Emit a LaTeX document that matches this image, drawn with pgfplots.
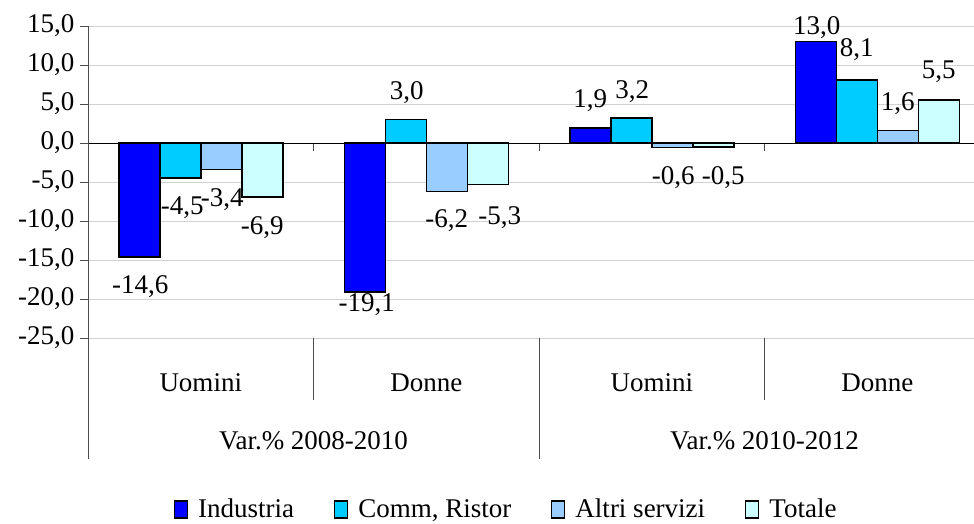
\documentclass[border=0pt]{standalone}
\usepackage{pgfplots}
\pgfplotsset{compat=1.18}
\usepackage{pgfplotstable}
\usepackage{fontspec}
\setmainfont{Liberation Serif}
\definecolor{cInd}{RGB}{0,0,255}
\definecolor{cCom}{RGB}{0,204,255}
\definecolor{cAlt}{RGB}{153,204,255}
\definecolor{cTot}{RGB}{204,255,255}
\pgfplotstableread{
x y dx dy
0 -14.6 1 -30
1 -19.1 2 -13
2 1.9 0 28
3 13.0 1 14
}\tInd
\pgfplotstableread{
x y dx dy
0 -4.5 2 -30
1 3.0 1 27
2 3.2 1 26
3 8.1 0 30
}\tCom
\pgfplotstableread{
x y dx dy
0 -3.4 1 -30
1 -6.2 0 -29
2 -0.6 1 -30
3 1.6 0 27
}\tAlt
\pgfplotstableread{
x y dx dy
0 -6.9 0 -31
1 -5.3 12 -33
2 -0.5 10 -31
3 5.5 0 28
}\tTot
\begin{document}
\begin{tikzpicture}[font=\fontsize{27}{32}\selectfont]
\begin{axis}[
  at={(88pt,185pt)}, anchor=south west,
  scale only axis, width=886pt, height=312pt,
  xmin=-0.5, xmax=3.429, ymin=-25, ymax=15,
  axis x line=middle, axis y line=left,
  axis line style={-},
  x axis line style={black, line width=0.8pt},
  y axis line style={black!70, line width=0.8pt},
  xtick={0.5,1.5,2.5}, xticklabels={},
  xtick align=outside, ytick align=outside,
  major tick length=8pt,
  xtick style={black!70, line width=0.8pt},
  ytick style={black!70, line width=0.8pt},
  ytick={-25,-20,...,15},
  ymajorgrids, grid style={black!18, line width=1pt},
  /pgf/number format/.cd, use comma, fixed, fixed zerofill, precision=1, assume math mode=true,
  /pgfplots/.cd,
  yticklabel style={xshift=-2pt},
  clip=false,
  ybar, bar width=41pt,
  nodes near coords,
  visualization depends on={\thisrow{dx} \as \dx},
  visualization depends on={\thisrow{dy} \as \dy},
  every node near coord/.append style={anchor=center, xshift=\dx pt, yshift=\dy pt, black},
  legend image code/.code={\draw[#1, line width=1.2pt] (0pt,-9pt) rectangle (13pt,8pt);},
  legend style={at={(0.472,-0.548)}, anchor=center, draw=none, fill=none, legend columns=4,
    /tikz/every even column/.append style={column sep=38pt},
    /tikz/every odd column/.append style={column sep=8pt}},
]
\addplot[fill=cInd, draw=black, line width=1.5pt, bar shift=-61.5pt] table[x=x,y=y] {\tInd};
\addlegendentry{Industria}
\addplot[fill=cCom, draw=black, line width=1.5pt, bar shift=-20.5pt] table[x=x,y=y] {\tCom};
\addlegendentry{Comm, Ristor}
\addplot[fill=cAlt, draw=black, line width=1.5pt, bar shift=20.5pt] table[x=x,y=y] {\tAlt};
\addlegendentry{Altri servizi}
\addplot[fill=cTot, draw=black, line width=1.5pt, bar shift=61.5pt] table[x=x,y=y] {\tTot};
\addlegendentry{Totale}
\draw[black!70, line width=0.8pt] (axis cs:-0.5,-25) -- ++(0pt,-121pt);
\draw[black!70, line width=0.8pt] (axis cs:0.5,-25) -- ++(0pt,-62pt);
\draw[black!70, line width=0.8pt] (axis cs:1.5,-25) -- ++(0pt,-121pt);
\draw[black!70, line width=0.8pt] (axis cs:2.5,-25) -- ++(0pt,-62pt);
\node at (axis cs:0,-25) [yshift=-45pt] {Uomini};
\node at (axis cs:1,-25) [yshift=-45pt] {Donne};
\node at (axis cs:2,-25) [yshift=-45pt] {Uomini};
\node at (axis cs:3,-25) [yshift=-45pt] {Donne};
\node at (axis cs:0.5,-25) [yshift=-103pt] {Var.\% 2008-2010};
\node at (axis cs:2.5,-25) [yshift=-103pt] {Var.\% 2010-2012};
\end{axis}
\pgfresetboundingbox
\useasboundingbox (0pt,0pt) rectangle (974pt,523pt);
\end{tikzpicture}
\end{document}
